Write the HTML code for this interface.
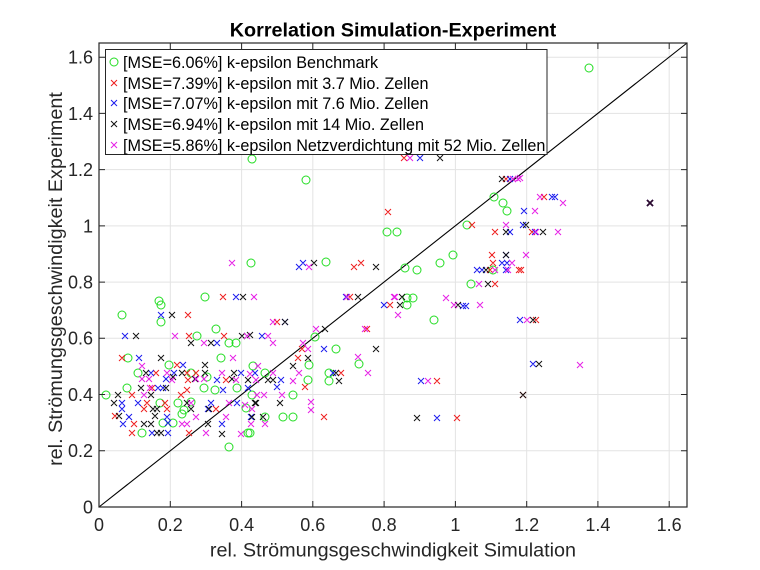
<!DOCTYPE html>
<html><head><meta charset="utf-8"><style>
html,body{margin:0;padding:0;background:#fff;}
svg{display:block;font-family:"Liberation Sans",Arial,sans-serif;}
</style></head><body>
<svg width="760" height="570" viewBox="0 0 760 570" xmlns="http://www.w3.org/2000/svg">
<rect width="760" height="570" fill="#fff"/>
<!-- grid -->
<g stroke="#e3e3e3" stroke-width="1">
<path d="M170.3 43V507M241.6 43V507M312.8 43V507M384.1 43V507M455.4 43V507M526.7 43V507M597.9 43V507M669.2 43V507"/>
<path d="M99 450.8H687M99 394.5H687M99 338.3H687M99 282.1H687M99 225.9H687M99 169.6H687M99 113.4H687M99 57.2H687"/>
</g>
<!-- diagonal -->
<path d="M99 507L687 43" stroke="#000" stroke-width="1.1" fill="none"/>
<!-- green circles -->
<g fill="none" stroke="#22dd22" stroke-width="1">
<circle cx="205" cy="297" r="4"/><circle cx="161" cy="305" r="4"/><circle cx="122" cy="315" r="4"/><circle cx="161" cy="322" r="4"/><circle cx="216" cy="329" r="4"/><circle cx="197" cy="336" r="4"/><circle cx="229" cy="343" r="4"/><circle cx="236" cy="343" r="4"/><circle cx="128" cy="358" r="4"/><circle cx="221" cy="358" r="4"/><circle cx="169" cy="365" r="4"/><circle cx="253" cy="366" r="4"/><circle cx="138" cy="373" r="4"/><circle cx="191" cy="373" r="4"/><circle cx="207" cy="377" r="4"/><circle cx="127" cy="388" r="4"/><circle cx="204" cy="388" r="4"/><circle cx="215" cy="390" r="4"/><circle cx="237" cy="388" r="4"/><circle cx="106" cy="395" r="4"/><circle cx="252" cy="395" r="4"/><circle cx="160" cy="403" r="4"/><circle cx="178" cy="403" r="4"/><circle cx="191" cy="402" r="4"/><circle cx="184" cy="410" r="4"/><circle cx="246" cy="408" r="4"/><circle cx="182" cy="414" r="4"/><circle cx="163" cy="423" r="4"/><circle cx="173" cy="423" r="4"/><circle cx="142" cy="433" r="4"/><circle cx="248" cy="433" r="4"/><circle cx="229" cy="447" r="4"/>
<circle cx="407" cy="298" r="4"/><circle cx="315" cy="337" r="4"/><circle cx="336" cy="349" r="4"/><circle cx="359" cy="364" r="4"/><circle cx="309" cy="365" r="4"/><circle cx="265" cy="373" r="4"/><circle cx="329" cy="373" r="4"/><circle cx="308" cy="380" r="4"/><circle cx="329" cy="381" r="4"/><circle cx="293" cy="395" r="4"/><circle cx="265" cy="417" r="4"/><circle cx="283" cy="417" r="4"/><circle cx="293" cy="417" r="4"/><circle cx="250" cy="433" r="4"/>
<circle cx="494" cy="197" r="4"/><circle cx="503" cy="203" r="4"/><circle cx="507" cy="211" r="4"/><circle cx="467" cy="225" r="4"/><circle cx="453" cy="255" r="4"/><circle cx="440" cy="263" r="4"/><circle cx="405" cy="268" r="4"/><circle cx="417" cy="270" r="4"/><circle cx="493" cy="270" r="4"/><circle cx="471" cy="284" r="4"/><circle cx="413" cy="298" r="4"/><circle cx="407" cy="305" r="4"/><circle cx="434" cy="320" r="4"/>
<circle cx="252" cy="159" r="4"/><circle cx="306" cy="180" r="4"/><circle cx="387" cy="232" r="4"/><circle cx="397" cy="232" r="4"/><circle cx="251" cy="263" r="4"/><circle cx="326" cy="262" r="4"/><circle cx="159" cy="301" r="4"/><circle cx="589" cy="68" r="4"/>
</g>
<!-- red -->
<path fill="none" stroke="#ee1c1c" stroke-width="1" d="M220 294l6 6m0-6l-6 6M185 312l6 6m0-6l-6 6M186 333l6 6m0-6l-6 6M221 333l6 6m0-6l-6 6M119 355l6 6m0-6l-6 6M174 362l6 6m0-6l-6 6M153 370l6 6m0-6l-6 6M184 370l6 6m0-6l-6 6M193 370l6 6m0-6l-6 6M185 377l6 6m0-6l-6 6M223 377l6 6m0-6l-6 6M149 385l6 6m0-6l-6 6M184 387l6 6m0-6l-6 6M129 392l6 6m0-6l-6 6M178 392l6 6m0-6l-6 6M144 400l6 6m0-6l-6 6M162 400l6 6m0-6l-6 6M141 406l6 6m0-6l-6 6M164 406l6 6m0-6l-6 6M213 406l6 6m0-6l-6 6M112 413l6 6m0-6l-6 6M131 421l6 6m0-6l-6 6M129 430l6 6m0-6l-6 6M186 430l6 6m0-6l-6 6M347 294l6 6m0-6l-6 6M387 302l6 6m0-6l-6 6M274 319l6 6m0-6l-6 6M364 326l6 6m0-6l-6 6M299 346l6 6m0-6l-6 6M295 355l6 6m0-6l-6 6M338 370l6 6m0-6l-6 6M302 384l6 6m0-6l-6 6M321 414l6 6m0-6l-6 6M401 155l6 6m0-6l-6 6M503 176l6 6m0-6l-6 6M541 194l6 6m0-6l-6 6M469 222l6 6m0-6l-6 6M492 229l6 6m0-6l-6 6M529 229l6 6m0-6l-6 6M489 252l6 6m0-6l-6 6M490 260l6 6m0-6l-6 6M487 267l6 6m0-6l-6 6M516 267l6 6m0-6l-6 6M518 267l6 6m0-6l-6 6M492 281l6 6m0-6l-6 6M533 317l6 6m0-6l-6 6M434 378l6 6m0-6l-6 6M520 392l6 6m0-6l-6 6M454 415l6 6m0-6l-6 6M385 209l6 6m0-6l-6 6M351 264l6 6m0-6l-6 6M358 260l6 6m0-6l-6 6M647 200l6 6m0-6l-6 6"/>
<!-- blue -->
<path fill="none" stroke="#1a1aee" stroke-width="1" d="M233 294l6 6m0-6l-6 6M158 312l6 6m0-6l-6 6M122 333l6 6m0-6l-6 6M214 340l6 6m0-6l-6 6M136 355l6 6m0-6l-6 6M180 362l6 6m0-6l-6 6M148 370l6 6m0-6l-6 6M171 370l6 6m0-6l-6 6M238 370l6 6m0-6l-6 6M163 376l6 6m0-6l-6 6M214 377l6 6m0-6l-6 6M155 385l6 6m0-6l-6 6M160 385l6 6m0-6l-6 6M220 387l6 6m0-6l-6 6M245 385l6 6m0-6l-6 6M119 400l6 6m0-6l-6 6M135 400l6 6m0-6l-6 6M208 400l6 6m0-6l-6 6M234 400l6 6m0-6l-6 6M119 406l6 6m0-6l-6 6M205 406l6 6m0-6l-6 6M126 414l6 6m0-6l-6 6M164 414l6 6m0-6l-6 6M248 414l6 6m0-6l-6 6M120 421l6 6m0-6l-6 6M165 420l6 6m0-6l-6 6M219 421l6 6m0-6l-6 6M149 430l6 6m0-6l-6 6M165 430l6 6m0-6l-6 6M381 302l6 6m0-6l-6 6M282 319l6 6m0-6l-6 6M259 333l6 6m0-6l-6 6M321 346l6 6m0-6l-6 6M330 370l6 6m0-6l-6 6M252 370l6 6m0-6l-6 6M278 377l6 6m0-6l-6 6M274 384l6 6m0-6l-6 6M417 155l6 6m0-6l-6 6M507 176l6 6m0-6l-6 6M549 194l6 6m0-6l-6 6M552 194l6 6m0-6l-6 6M521 208l6 6m0-6l-6 6M520 222l6 6m0-6l-6 6M507 229l6 6m0-6l-6 6M503 252l6 6m0-6l-6 6M499 260l6 6m0-6l-6 6M504 260l6 6m0-6l-6 6M474 267l6 6m0-6l-6 6M479 267l6 6m0-6l-6 6M503 267l6 6m0-6l-6 6M532 229l6 6m0-6l-6 6M460 303l6 6m0-6l-6 6M463 303l6 6m0-6l-6 6M517 317l6 6m0-6l-6 6M530 361l6 6m0-6l-6 6M418 378l6 6m0-6l-6 6M434 415l6 6m0-6l-6 6M296 264l6 6m0-6l-6 6M300 260l6 6m0-6l-6 6M343 294l6 6m0-6l-6 6M647 200l6 6m0-6l-6 6"/>
<!-- black -->
<path fill="none" stroke="#111" stroke-width="1" d="M240 294l6 6m0-6l-6 6M169 312l6 6m0-6l-6 6M133 333l6 6m0-6l-6 6M239 333l6 6m0-6l-6 6M188 340l6 6m0-6l-6 6M208 340l6 6m0-6l-6 6M158 355l6 6m0-6l-6 6M202 362l6 6m0-6l-6 6M143 370l6 6m0-6l-6 6M179 370l6 6m0-6l-6 6M202 370l6 6m0-6l-6 6M231 370l6 6m0-6l-6 6M170 374l6 6m0-6l-6 6M192 376l6 6m0-6l-6 6M229 376l6 6m0-6l-6 6M245 377l6 6m0-6l-6 6M138 385l6 6m0-6l-6 6M163 385l6 6m0-6l-6 6M115 392l6 6m0-6l-6 6M148 392l6 6m0-6l-6 6M111 400l6 6m0-6l-6 6M184 400l6 6m0-6l-6 6M253 400l6 6m0-6l-6 6M150 406l6 6m0-6l-6 6M154 406l6 6m0-6l-6 6M188 406l6 6m0-6l-6 6M206 406l6 6m0-6l-6 6M116 413l6 6m0-6l-6 6M152 413l6 6m0-6l-6 6M141 421l6 6m0-6l-6 6M148 421l6 6m0-6l-6 6M205 421l6 6m0-6l-6 6M154 430l6 6m0-6l-6 6M158 430l6 6m0-6l-6 6M219 431l6 6m0-6l-6 6M355 294l6 6m0-6l-6 6M399 294l6 6m0-6l-6 6M397 302l6 6m0-6l-6 6M282 319l6 6m0-6l-6 6M322 326l6 6m0-6l-6 6M247 332l6 6m0-6l-6 6M373 346l6 6m0-6l-6 6M305 355l6 6m0-6l-6 6M290 363l6 6m0-6l-6 6M333 370l6 6m0-6l-6 6M265 377l6 6m0-6l-6 6M270 377l6 6m0-6l-6 6M336 378l6 6m0-6l-6 6M277 400l6 6m0-6l-6 6M252 400l6 6m0-6l-6 6M249 414l6 6m0-6l-6 6M260 414l6 6m0-6l-6 6M437 155l6 6m0-6l-6 6M499 176l6 6m0-6l-6 6M523 222l6 6m0-6l-6 6M503 229l6 6m0-6l-6 6M540 229l6 6m0-6l-6 6M503 252l6 6m0-6l-6 6M483 267l6 6m0-6l-6 6M485 281l6 6m0-6l-6 6M455 302l6 6m0-6l-6 6M530 317l6 6m0-6l-6 6M536 361l6 6m0-6l-6 6M520 392l6 6m0-6l-6 6M414 415l6 6m0-6l-6 6M311 260l6 6m0-6l-6 6M373 264l6 6m0-6l-6 6"/>
<!-- magenta -->
<path fill="none" stroke="#e61ee6" stroke-width="1" d="M251 294l6 6m0-6l-6 6M172 333l6 6m0-6l-6 6M244 333l6 6m0-6l-6 6M201 340l6 6m0-6l-6 6M230 355l6 6m0-6l-6 6M139 363l6 6m0-6l-6 6M164 370l6 6m0-6l-6 6M219 370l6 6m0-6l-6 6M247 371l6 6m0-6l-6 6M139 376l6 6m0-6l-6 6M146 376l6 6m0-6l-6 6M169 377l6 6m0-6l-6 6M193 376l6 6m0-6l-6 6M201 376l6 6m0-6l-6 6M233 377l6 6m0-6l-6 6M253 377l6 6m0-6l-6 6M147 385l6 6m0-6l-6 6M141 392l6 6m0-6l-6 6M188 400l6 6m0-6l-6 6M226 400l6 6m0-6l-6 6M242 402l6 6m0-6l-6 6M193 414l6 6m0-6l-6 6M249 406l6 6m0-6l-6 6M223 414l6 6m0-6l-6 6M179 421l6 6m0-6l-6 6M184 421l6 6m0-6l-6 6M248 421l6 6m0-6l-6 6M203 430l6 6m0-6l-6 6M238 431l6 6m0-6l-6 6M344 294l6 6m0-6l-6 6M392 294l6 6m0-6l-6 6M395 312l6 6m0-6l-6 6M270 319l6 6m0-6l-6 6M313 326l6 6m0-6l-6 6M362 326l6 6m0-6l-6 6M265 333l6 6m0-6l-6 6M270 340l6 6m0-6l-6 6M300 340l6 6m0-6l-6 6M305 346l6 6m0-6l-6 6M355 354l6 6m0-6l-6 6M255 363l6 6m0-6l-6 6M270 370l6 6m0-6l-6 6M296 370l6 6m0-6l-6 6M365 370l6 6m0-6l-6 6M290 378l6 6m0-6l-6 6M254 392l6 6m0-6l-6 6M261 392l6 6m0-6l-6 6M279 392l6 6m0-6l-6 6M308 399l6 6m0-6l-6 6M308 407l6 6m0-6l-6 6M262 421l6 6m0-6l-6 6M407 155l6 6m0-6l-6 6M510 176l6 6m0-6l-6 6M515 176l6 6m0-6l-6 6M537 194l6 6m0-6l-6 6M532 208l6 6m0-6l-6 6M503 222l6 6m0-6l-6 6M533 229l6 6m0-6l-6 6M555 229l6 6m0-6l-6 6M523 252l6 6m0-6l-6 6M509 260l6 6m0-6l-6 6M492 267l6 6m0-6l-6 6M505 267l6 6m0-6l-6 6M476 281l6 6m0-6l-6 6M443 295l6 6m0-6l-6 6M451 302l6 6m0-6l-6 6M477 302l6 6m0-6l-6 6M517 175l6 6m0-6l-6 6M560 200l6 6m0-6l-6 6M524 317l6 6m0-6l-6 6M577 362l6 6m0-6l-6 6M425 378l6 6m0-6l-6 6M229 260l6 6m0-6l-6 6M306 264l6 6m0-6l-6 6M391 294l6 6m0-6l-6 6"/>
<path fill="none" stroke="#2a0a30" stroke-width="1.8" d="M647 200l6 6m0-6l-6 6"/>
<!-- axes box -->
<rect x="99" y="43" width="588" height="464" fill="none" stroke="#262626" stroke-width="1.2"/>
<!-- ticks -->
<g stroke="#262626" stroke-width="1">
<path d="M170.3 507v-6M241.6 507v-6M312.8 507v-6M384.1 507v-6M455.4 507v-6M526.7 507v-6M597.9 507v-6M669.2 507v-6"/>
<path d="M170.3 43v6M241.6 43v6M312.8 43v6M384.1 43v6M455.4 43v6M526.7 43v6M597.9 43v6M669.2 43v6"/>
<path d="M99 450.8h6M99 394.5h6M99 338.3h6M99 282.1h6M99 225.9h6M99 169.6h6M99 113.4h6M99 57.2h6"/>
<path d="M687 450.8h-6M687 394.5h-6M687 338.3h-6M687 282.1h-6M687 225.9h-6M687 169.6h-6M687 113.4h-6M687 57.2h-6"/>
</g>
<!-- tick labels -->
<g fill="#262626" font-size="18" text-anchor="middle">
<text x="99" y="531">0</text><text x="170.3" y="531">0.2</text><text x="241.6" y="531">0.4</text><text x="312.8" y="531">0.6</text><text x="384.1" y="531">0.8</text><text x="455.4" y="531">1</text><text x="526.7" y="531">1.2</text><text x="597.9" y="531">1.4</text><text x="669.2" y="531">1.6</text>
</g>
<g fill="#262626" font-size="18" text-anchor="end">
<text x="93" y="513.4">0</text><text x="93" y="457.2">0.2</text><text x="93" y="400.9">0.4</text><text x="93" y="344.7">0.6</text><text x="93" y="288.5">0.8</text><text x="93" y="232.3">1</text><text x="93" y="176">1.2</text><text x="93" y="119.8">1.4</text><text x="93" y="63.6">1.6</text>
</g>
<!-- axis labels -->
<text x="393" y="556.5" font-size="19.8" text-anchor="middle" fill="#262626">rel. Strömungsgeschwindigkeit Simulation</text>
<text transform="translate(62,279) rotate(-90)" font-size="19.8" text-anchor="middle" fill="#262626">rel. Strömungsgeschwindigkeit Experiment</text>
<!-- title -->
<text x="393" y="36.5" font-size="19.8" font-weight="bold" text-anchor="middle" fill="#000">Korrelation Simulation-Experiment</text>
<!-- legend -->
<rect x="105.5" y="49.5" width="441.5" height="105" fill="#fff" stroke="#262626" stroke-width="1"/>
<circle cx="114" cy="62" r="4" fill="none" stroke="#22dd22" stroke-width="1"/>
<path d="M111 80l6 6m0-6l-6 6" stroke="#ee1c1c" fill="none"/>
<path d="M111 100l6 6m0-6l-6 6" stroke="#1a1aee" fill="none"/>
<path d="M111 121l6 6m0-6l-6 6" stroke="#111" fill="none"/>
<path d="M111 142l6 6m0-6l-6 6" stroke="#e61ee6" fill="none"/>
<g font-size="16.2" fill="#000">
<text x="123" y="68">[MSE=6.06%] k-epsilon Benchmark</text>
<text x="123" y="89">[MSE=7.39%] k-epsilon mit 3.7 Mio. Zellen</text>
<text x="123" y="109">[MSE=7.07%] k-epsilon mit 7.6 Mio. Zellen</text>
<text x="123" y="130">[MSE=6.94%] k-epsilon mit 14 Mio. Zellen</text>
<text x="123" y="151">[MSE=5.86%] k-epsilon Netzverdichtung mit 52 Mio. Zellen</text>
</g>
</svg>
</body></html>
